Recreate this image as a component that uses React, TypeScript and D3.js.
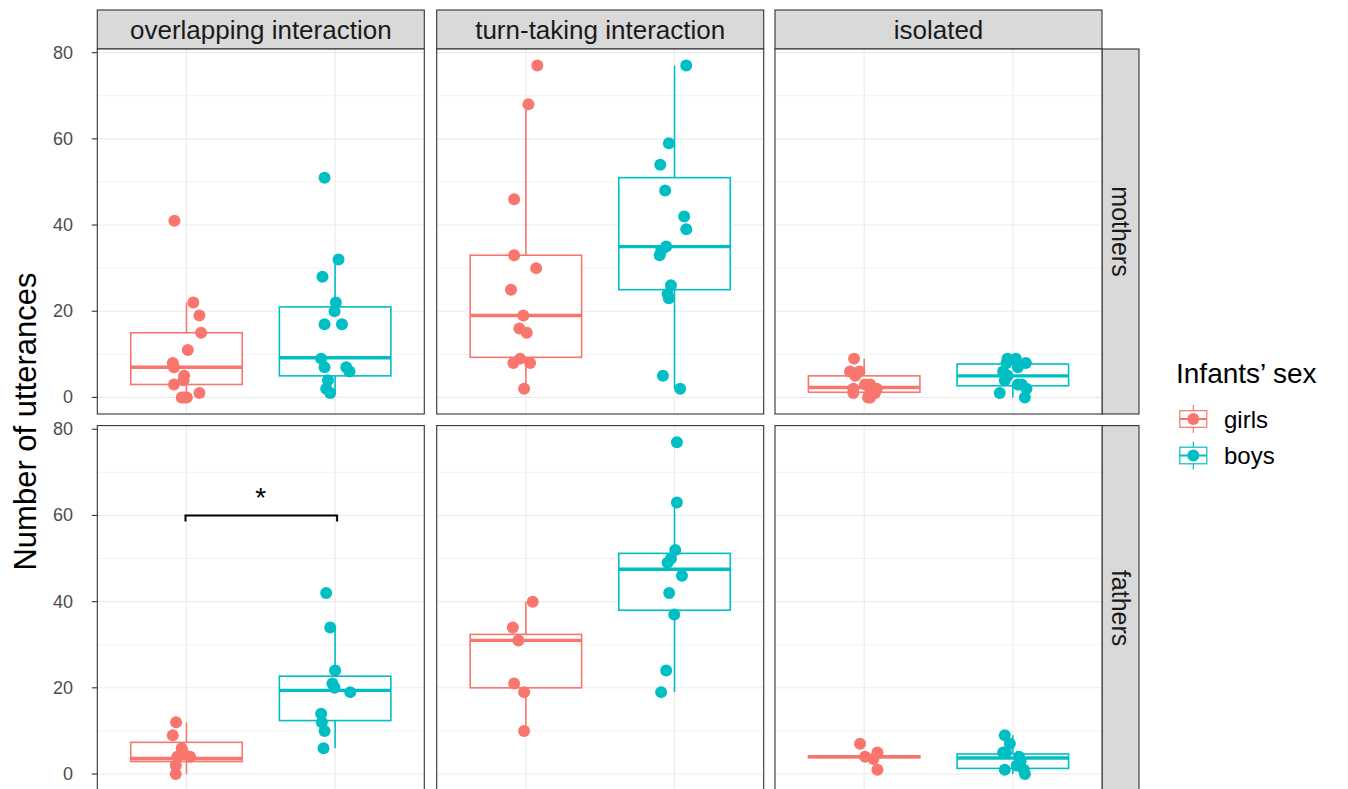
import React from "react";
import * as d3 from "d3";

// ---- categories ----
const interactions = ["overlapping interaction", "turn-taking interaction", "isolated"];
const parents = ["mothers", "fathers"];
const sexes = ["girls", "boys"];
const sexColors = ["#F8766D", "#00BFC4"];
const yTicks = [0, 20, 40, 60, 80];
const yMinor = [10, 30, 50, 70];

// ---- raw points (value) and horizontal jitter (category units) ----
// mothers
const omGirls = [41, 22, 19, 15, 11, 8, 7, 5, 4, 3, 1, 0, 0, 0];
const omGirlsJit = [-0.081, 0.046, 0.087, 0.098, 0.009, -0.092, -0.084, -0.016, -0.02, -0.084, 0.087, -0.032, 0.002, -0.015];
const omBoys = [51, 32, 28, 22, 20, 17, 17, 9, 7, 7, 6, 4, 2, 1];
const omBoysJit = [-0.071, 0.023, -0.085, 0.005, -0.004, -0.071, 0.046, -0.094, -0.071, 0.075, 0.097, -0.048, -0.06, -0.033];
const tmGirls = [77, 68, 46, 33, 30, 25, 19, 16, 15, 9, 8, 8, 2];
const tmGirlsJit = [0.077, 0.017, -0.079, -0.079, 0.069, -0.1, -0.017, -0.044, 0.006, -0.039, -0.084, 0.028, -0.012];
const tmBoys = [77, 59, 54, 48, 42, 39, 35, 34, 33, 26, 24, 23, 5, 2];
const tmBoysJit = [0.079, -0.038, -0.096, -0.063, 0.065, 0.079, -0.056, -0.09, -0.1, -0.024, -0.047, -0.038, -0.078, 0.038];
const imGirls = [9, 6, 6, 5, 3, 3, 2, 2, 2, 1, 1, 0, 0];
const imGirlsJit = [-0.068, -0.095, -0.032, -0.06, 0.006, 0.04, -0.073, 0.04, 0.085, -0.073, 0.073, 0.04, 0.026];
const imBoys = [9, 9, 8, 8, 7, 6, 5, 4, 3, 3, 2, 1, 0];
const imBoysJit = [-0.036, 0.02, 0.088, -0.042, 0.034, -0.065, -0.034, -0.054, 0.034, 0.06, 0.092, -0.088, 0.081];
// fathers
const ofGirls = [12, 9, 6, 5, 4, 4, 2, 0];
const ofGirlsJit = [-0.07, -0.092, -0.032, -0.023, 0.024, -0.061, -0.072, -0.072];
const ofBoys = [42, 34, 24, 21, 20, 19, 14, 12, 10, 6];
const ofBoysJit = [-0.06, -0.033, 0, -0.018, -0.004, 0.102, -0.094, -0.089, -0.071, -0.078];
const tfGirls = [40, 34, 31, 21, 19, 10];
const tfGirlsJit = [0.046, -0.088, -0.05, -0.079, -0.012, -0.012];
const tfBoys = [77, 63, 52, 50, 49, 46, 42, 37, 24, 19];
const tfBoysJit = [0.016, 0.016, 0.005, -0.024, -0.047, 0.05, -0.036, -0.002, -0.056, -0.09];
const ifGirls = [7, 5, 4, 3.5, 1];
const ifGirlsJit = [-0.028, 0.089, 0.006, 0.062, 0.089];
const ifBoys = [9, 7, 5, 5, 4, 3, 2, 1, 1, 0];
const ifBoysJit = [-0.054, -0.02, -0.065, -0.047, 0.042, 0.052, 0.027, -0.054, 0.074, 0.081];

// ---- box statistics: [lower whisker, q1, median, q3, upper whisker] ----
const omGirlsBox = [0, 3, 7, 15, 22];
const omBoysBox = [1, 5, 9.2, 21, 32];
const tmGirlsBox = [2, 9.3, 19, 33, 68];
const tmBoysBox = [2, 25, 35, 51, 77];
const imGirlsBox = [0, 1.2, 2.3, 5, 9];
const imBoysBox = [0, 2.7, 5, 7.75, 9];
const ofGirlsBox = [0, 2.9, 3.6, 7.35, 12];
const ofBoysBox = [6, 12.4, 19.4, 22.7, 34];
const tfGirlsBox = [10, 20, 31, 32.4, 40];
const tfBoysBox = [19, 38, 47.5, 51.2, 63];
const ifGirlsBox = [3.8, 3.8, 4, 4.2, 4.2];
const ifBoysBox = [0, 1.3, 3.7, 4.65, 9];

// significance annotation (fathers, overlapping)
const sigLevel = 60;
const sigLabel = "*";

type Group = { values: number[]; jitter: number[]; box: number[] };
const table: Group[][][] = [
  [
    [{ values: omGirls, jitter: omGirlsJit, box: omGirlsBox }, { values: omBoys, jitter: omBoysJit, box: omBoysBox }],
    [{ values: tmGirls, jitter: tmGirlsJit, box: tmGirlsBox }, { values: tmBoys, jitter: tmBoysJit, box: tmBoysBox }],
    [{ values: imGirls, jitter: imGirlsJit, box: imGirlsBox }, { values: imBoys, jitter: imBoysJit, box: imBoysBox }],
  ],
  [
    [{ values: ofGirls, jitter: ofGirlsJit, box: ofGirlsBox }, { values: ofBoys, jitter: ofBoysJit, box: ofBoysBox }],
    [{ values: tfGirls, jitter: tfGirlsJit, box: tfGirlsBox }, { values: tfBoys, jitter: tfBoysJit, box: tfBoysBox }],
    [{ values: ifGirls, jitter: ifGirlsJit, box: ifGirlsBox }, { values: ifBoys, jitter: ifBoysJit, box: ifBoysBox }],
  ],
];

const FONT = "'Liberation Sans', Arial, Helvetica, sans-serif";
const W = 1348;
const H = 789;

const panelLefts = [97.3, 436.7, 775];
const panelW = 327;
const panelTops = [49, 425.6];
const panelH = 365;
const stripTop = 10;
const stripRightW = 37;

export default function App() {
  const yDomain: [number, number] = [-3.85, 80.85];
  const yScales = panelTops.map((t) => d3.scaleLinear().domain(yDomain).range([t + panelH, t]));
  const xScales = panelLefts.map((l) => d3.scaleLinear().domain([0.4, 2.6]).range([l, l + panelW]));
  const unit = panelW / 2.2;
  const boxHalf = 0.375 * unit;

  return (
    <svg width={W} height={H} style={{ position: "absolute", left: 0, top: 0, background: "#fff" }} fontFamily={FONT}>
      <rect x={0} y={0} width={W} height={H} fill="#fff" />
      {/* top strips */}
      {interactions.map((name, c) => (
        <g key={"ts" + c}>
          <rect x={panelLefts[c]} y={stripTop} width={panelW} height={panelTops[0] - stripTop} fill="#D9D9D9" stroke="#333" strokeWidth={1.1} />
          <text x={panelLefts[c] + panelW / 2} y={(stripTop + panelTops[0]) / 2} textAnchor="middle" dominantBaseline="central" fontSize={26} fill="#1A1A1A">
            {name}
          </text>
        </g>
      ))}
      {/* right strips */}
      {parents.map((p, r) => {
        const x0 = panelLefts[2] + panelW;
        const cy = panelTops[r] + panelH / 2;
        return (
          <g key={"rs" + r}>
            <rect x={x0} y={panelTops[r]} width={stripRightW} height={panelH} fill="#D9D9D9" stroke="#333" strokeWidth={1.1} />
            <text transform={`translate(${x0 + stripRightW / 2},${cy}) rotate(90)`} textAnchor="middle" dominantBaseline="central" fontSize={25} fill="#1A1A1A">
              {p}
            </text>
          </g>
        );
      })}
      {/* panels */}
      {parents.map((p, r) =>
        interactions.map((name, c) => {
          const y = yScales[r];
          const x = xScales[c];
          const groups = table[r][c];
          return (
            <g key={`p${r}${c}`}>
              <rect x={panelLefts[c]} y={panelTops[r]} width={panelW} height={panelH} fill="#fff" />
              {yMinor.map((v) => (
                <line key={"mn" + v} x1={panelLefts[c]} x2={panelLefts[c] + panelW} y1={y(v)} y2={y(v)} stroke="#EBEBEB" strokeWidth={0.6} />
              ))}
              {yTicks.map((v) => (
                <line key={"mj" + v} x1={panelLefts[c]} x2={panelLefts[c] + panelW} y1={y(v)} y2={y(v)} stroke="#EBEBEB" strokeWidth={1.1} />
              ))}
              {[1, 2].map((k) => (
                <line key={"vx" + k} x1={x(k)} x2={x(k)} y1={panelTops[r]} y2={panelTops[r] + panelH} stroke="#EBEBEB" strokeWidth={1.1} />
              ))}
              {groups.map((g, s) => {
                const cx = x(s + 1);
                const [lo, q1, md, q3, hi] = g.box;
                const col = sexColors[s];
                return (
                  <g key={"b" + s}>
                    <line x1={cx} x2={cx} y1={y(q3)} y2={y(hi)} stroke={col} strokeWidth={1.6} />
                    <line x1={cx} x2={cx} y1={y(q1)} y2={y(lo)} stroke={col} strokeWidth={1.6} />
                    <rect x={cx - boxHalf} y={y(q3)} width={2 * boxHalf} height={Math.max(0, y(q1) - y(q3))} fill="#fff" stroke={col} strokeWidth={1.6} />
                    <line x1={cx - boxHalf} x2={cx + boxHalf} y1={y(md)} y2={y(md)} stroke={col} strokeWidth={3.4} />
                  </g>
                );
              })}
              {groups.map((g, s) =>
                g.values.map((v, i) => (
                  <circle key={`pt${s}-${i}`} cx={x(s + 1 + g.jitter[i])} cy={y(v)} r={6} fill={sexColors[s]} />
                ))
              )}
              <rect x={panelLefts[c]} y={panelTops[r]} width={panelW} height={panelH} fill="none" stroke="#333" strokeWidth={1.1} />
            </g>
          );
        })
      )}
      {/* significance bracket */}
      {(() => {
        const y = yScales[1];
        const x = xScales[0];
        const yy = y(sigLevel);
        const tip = y(sigLevel - 1.4);
        return (
          <g>
            <path d={`M${x(1) - 1},${tip}L${x(1) - 1},${yy}L${x(2) + 2},${yy}L${x(2) + 2},${tip}`} fill="none" stroke="#000" strokeWidth={2} />
            <text x={(x(1) + x(2)) / 2} y={yy - 8} textAnchor="middle" fontSize={28} fill="#000">
              {sigLabel}
            </text>
          </g>
        );
      })()}
      {/* y axes */}
      {parents.map((p, r) => (
        <g key={"ya" + r}>
          {yTicks.map((v) => (
            <g key={v}>
              <line x1={panelLefts[0] - 5.5} x2={panelLefts[0]} y1={yScales[r](v)} y2={yScales[r](v)} stroke="#333" strokeWidth={1.1} />
              <text x={73} y={yScales[r](v)} textAnchor="end" dominantBaseline="central" fontSize={18} fill="#4D4D4D">
                {v}
              </text>
            </g>
          ))}
        </g>
      ))}
      <text transform={`translate(36,421.5) rotate(-90)`} textAnchor="middle" fontSize={31} fill="#000">
        Number of utterances
      </text>
      {/* legend */}
      <text x={1176} y={382.7} fontSize={28} fill="#000">
        Infants’ sex
      </text>
      {sexes.map((s, i) => {
        const cy = 419 + i * 36.5;
        const cx = 1193.3;
        const col = sexColors[i];
        return (
          <g key={"lg" + s}>
            <line x1={cx} x2={cx} y1={cy - 14} y2={cy + 14} stroke={col} strokeWidth={1.2} />
            <rect x={cx - 13.5} y={cy - 8.3} width={27} height={16.6} fill="#fff" stroke={col} strokeWidth={1.2} />
            <line x1={cx - 13.5} x2={cx + 13.5} y1={cy} y2={cy} stroke={col} strokeWidth={2} />
            <circle cx={cx} cy={cy} r={6} fill={col} />
            <text x={1224} y={cy} dominantBaseline="central" fontSize={24} fill="#000">
              {s}
            </text>
          </g>
        );
      })}
    </svg>
  );
}
